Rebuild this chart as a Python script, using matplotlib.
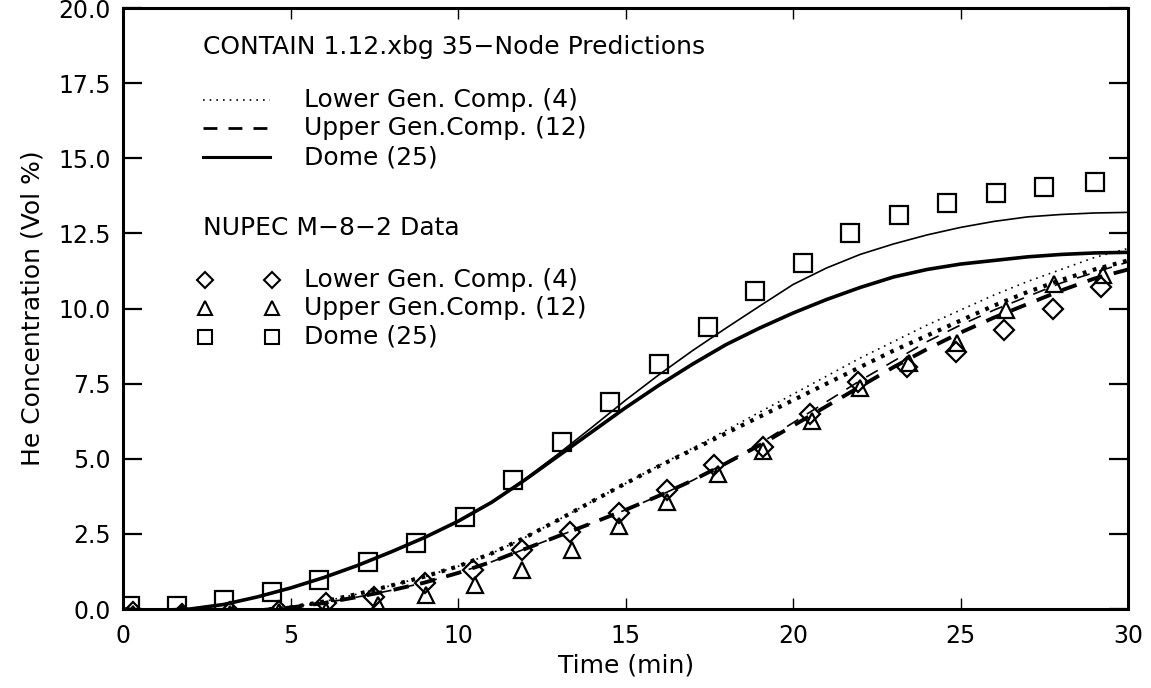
import matplotlib
matplotlib.use("Agg")
import matplotlib.pyplot as plt
import numpy as np

plt.rcParams['font.family'] = ['DejaVu Sans']

# - DATA -
# model curves (CONTAIN predictions), read every minute
t_pred = list(range(0, 31))
dome_thick = [0.0, -0.05, 0.0, 0.15, 0.4, 0.7, 1.05, 1.45, 1.9, 2.38, 2.92, 3.55, 4.3,
              5.1, 5.9, 6.7, 7.45, 8.15, 8.8, 9.35, 9.85, 10.3, 10.7, 11.05, 11.3,
              11.48, 11.6, 11.72, 11.8, 11.85, 11.87]
dome_thin = [0.0, -0.05, 0.0, 0.15, 0.4, 0.7, 1.05, 1.45, 1.9, 2.38, 2.92, 3.55, 4.33,
             5.17, 6.05, 6.95, 7.8, 8.6, 9.35, 10.08, 10.8, 11.35, 11.8, 12.15, 12.45,
             12.7, 12.9, 13.05, 13.13, 13.18, 13.2]
lower_thick = [-0.1, -0.1, -0.1, -0.08, -0.05, 0.05, 0.25, 0.5, 0.78, 1.08, 1.42, 1.85, 2.38,
               2.97, 3.58, 4.18, 4.76, 5.3, 5.85, 6.4, 6.95, 7.5, 8.05, 8.6, 9.1, 9.6, 10.1,
               10.55, 10.95, 11.3, 11.6]
lower_thin = [-0.1, -0.1, -0.1, -0.08, -0.05, 0.05, 0.25, 0.5, 0.78, 1.08, 1.42, 1.85, 2.38,
              2.97, 3.58, 4.18, 4.78, 5.35, 5.95, 6.55, 7.15, 7.75, 8.35, 8.9, 9.45, 9.95,
              10.45, 10.9, 11.3, 11.7, 12.0]
upper_thick = [-0.1, -0.1, -0.1, -0.1, -0.05, 0.05, 0.2, 0.4, 0.62, 0.88, 1.2, 1.57, 2.0,
               2.43, 2.86, 3.3, 3.77, 4.28, 4.85, 5.45, 6.1, 6.75, 7.4, 8.05, 8.65, 9.2,
               9.7, 10.15, 10.6, 11.0, 11.3]
upper_thin = [-0.1, -0.1, -0.1, -0.1, -0.05, 0.05, 0.2, 0.4, 0.62, 0.88, 1.2, 1.57, 2.0,
              2.43, 2.86, 3.3, 3.77, 4.28, 4.87, 5.5, 6.2, 6.9, 7.6, 8.25, 8.9, 9.45,
              9.95, 10.4, 10.85, 11.2, 11.55]

# NUPEC M-8-2 measurements
t_dome = [0.2, 1.6, 3.0, 4.45, 5.85, 7.3, 8.75, 10.2, 11.65, 13.1, 14.55, 16.0, 17.45,
          18.85, 20.3, 21.7, 23.15, 24.6, 26.05, 27.5, 29.0]
v_dome = [0.1, 0.1, 0.3, 0.55, 0.95, 1.55, 2.2, 3.05, 4.3, 5.55, 6.9, 8.15, 9.4, 10.6,
          11.5, 12.5, 13.1, 13.5, 13.85, 14.05, 14.2]
t_lower = [0.3, 1.75, 3.2, 4.65, 6.05, 7.5, 9.0, 10.45, 11.9, 13.35, 14.8, 16.25, 17.65,
           19.1, 20.5, 21.95, 23.4, 24.85, 26.3, 27.75, 29.2]
v_lower = [-0.1, -0.15, -0.1, -0.05, 0.2, 0.4, 0.85, 1.3, 1.95, 2.55, 3.2, 3.95, 4.8,
           5.4, 6.5, 7.55, 8.05, 8.55, 9.3, 10.0, 10.7]
t_upper = [0.3, 1.75, 3.2, 4.65, 6.05, 7.6, 9.05, 10.5, 11.9, 13.4, 14.8, 16.25, 17.75,
           19.1, 20.55, 22.0, 23.45, 24.9, 26.35, 27.8, 29.25]
v_upper = [-0.15, -0.15, -0.15, -0.1, -0.05, 0.15, 0.45, 0.8, 1.3, 1.95, 2.75, 3.55, 4.5,
           5.25, 6.25, 7.35, 8.2, 8.85, 9.95, 10.8, 11.1]

pred_labels = ['Lower Gen. Comp. (4)', 'Upper Gen.Comp. (12)', 'Dome (25)']
x_ticks = [0, 5, 10, 15, 20, 25, 30]
y_ticks = [0.0, 2.5, 5.0, 7.5, 10.0, 12.5, 15.0, 17.5, 20.0]
# - DATA -

fig = plt.figure(figsize=(11.51, 6.88), dpi=100)
ax = fig.add_axes([0.1069, 0.1148, 0.8732, 0.8735])

ax.plot(t_pred, dome_thin, color='black', lw=1.2)
ax.plot(t_pred, dome_thick, color='black', lw=2.6)
ax.plot(t_pred, lower_thin, color='black', lw=1.2, ls=(0, (1, 3)))
ax.plot(t_pred, lower_thick, color='black', lw=3.0, ls=(0, (0.9, 1.6)))
ax.plot(t_pred, upper_thin, color='black', lw=1.2, ls=(0, (8, 6)))
ax.plot(t_pred, upper_thick, color='black', lw=2.8, ls=(0, (4, 3)))

mk = dict(color='black', ls='none', mfc='none', mew=1.6)
ax.plot(t_dome, v_dome, marker='s', ms=13, **mk)
ax.plot(t_lower, v_lower, marker='D', ms=10, **mk)
ax.plot(t_upper, v_upper, marker='^', ms=12, **mk)

ax.set_xlim(0, 30)
ax.set_ylim(0, 20)
ax.set_xticks(x_ticks)
ax.set_yticks(y_ticks)
ax.set_yticklabels(['%.1f' % v for v in y_ticks])
ax.tick_params(axis='y', direction='in', length=14, width=1.6, left=True, right=True,
               labelsize=17, pad=9)
ax.tick_params(axis='x', direction='in', length=8, width=1.0, top=True, bottom=True,
               labelsize=17, pad=11)
for s in ax.spines.values():
    s.set_linewidth(2.2)

ax.set_xlabel('Time (min)', fontsize=18, labelpad=4)
ax.set_ylabel('He Concentration (Vol %)', fontsize=18, labelpad=10)

# hand-made legend block
tr = ax.transAxes
fs = 18
ax.text(0.0796, 0.935, 'CONTAIN 1.12.xbg 35\u2212Node Predictions', transform=tr,
        fontsize=fs, va='center', ha='left')
rows = [0.847, 0.800, 0.752]
styles = [dict(lw=1.2, ls=(0, (1, 3))), dict(lw=2.0, ls=(0, (5, 4))), dict(lw=2.2, ls='-')]
for yy, lab, st in zip(rows, pred_labels, styles):
    ax.plot([0.0796, 0.146], [yy, yy], transform=tr, color='black', **st)
    ax.text(0.180, yy, lab, transform=tr, fontsize=fs, va='center', ha='left')

ax.text(0.0796, 0.634, 'NUPEC M\u22128\u22122 Data', transform=tr,
        fontsize=fs, va='center', ha='left')
mrows = [0.547, 0.501, 0.453]
markers = [('D', 8), ('^', 10), ('s', 10)]
for yy, lab, (m, s) in zip(mrows, pred_labels, markers):
    ax.plot([0.0816, 0.148], [yy, yy], transform=tr, marker=m, ms=s, color='black',
            ls='none', mfc='none', mew=1.5)
    ax.text(0.180, yy, lab, transform=tr, fontsize=fs, va='center', ha='left')

fig.savefig('out.png', dpi=100)
